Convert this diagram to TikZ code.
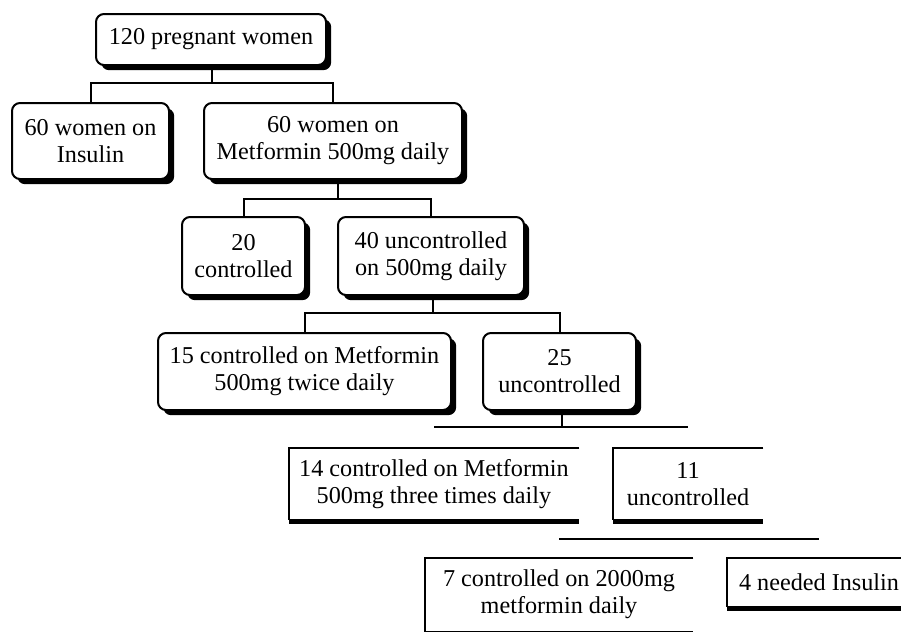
\documentclass[tikz,border=0pt]{standalone}
\usepackage{fontspec}
\setmainfont{Liberation Serif}
\usetikzlibrary{shadows}

\begin{document}
\begin{tikzpicture}[x=0.5pt, y=-0.5pt, font=\fontsize{12.1}{13.5}\selectfont,
            box/.style={draw, line width=1pt, rounded corners=4pt, fill=white, align=center, inner sep=0pt,
                drop shadow={shadow xshift=2.6pt, shadow yshift=-2.6pt, fill=black, opacity=1}},
            openbox/.style={align=center, inner sep=0pt},
            link/.style={line width=1pt}]
            \clip (0,0) rectangle (901,634);

            \node[box, minimum width=115pt, minimum height=25.5pt] (n0) at (211, 39.5) {120 pregnant women};
            \node[box, minimum width=78.5pt, minimum height=38pt] (n1) at (90.5, 141) {60 women on\\Insulin};
            \node[box, minimum width=129pt, minimum height=38pt] (n2) at (333, 141) {60 women on\\Metformin 500mg daily};
            \node[box, minimum width=61.5pt, minimum height=39pt] (n3) at (243.5, 256) {20\\controlled};
            \node[box, minimum width=93pt, minimum height=39pt] (n4) at (431, 256) {40 uncontrolled\\on 500mg daily};
            \node[box, minimum width=146.5pt, minimum height=38.5pt] (n5) at (304.5, 371.5) {15 controlled on Metformin\\500mg twice daily};
            \node[box, minimum width=76.5pt, minimum height=38.5pt] (n6) at (559.5, 371.5) {25\\uncontrolled};
            \node[openbox, minimum width=145pt, minimum height=36pt] (n7) at (434, 484) {14 controlled on Metformin\\500mg three times daily};
            \node[openbox, minimum width=75pt, minimum height=36pt] (n8) at (688, 484) {11\\uncontrolled};
            \node[openbox, minimum width=134pt, minimum height=36.5pt] (n9) at (559, 594.5) {7 controlled on 2000mg\\metformin daily};
            \node[openbox, minimum width=92pt, minimum height=24.5pt] (n10) at (819, 582.5) {4 needed Insulin};

            % junctions of the bars
            \coordinate (j0) at (212, 83);
            \coordinate (j1) at (338, 199);
            \coordinate (j2) at (433, 313);
            \coordinate (j3) at (562, 427);
            \coordinate (j4) at (689, 539);

            \draw[link] (j0 |- n0.south) -- (j0);
            \draw[link] (n1.north) |- (j0) -| (n2.north);
            \draw[link] (j1 |- n2.south) -- (j1);
            \draw[link] (n3.north) |- (j1) -| (n4.north);
            \draw[link] (j2 |- n4.south) -- (j2);
            \draw[link] (n5.north) |- (j2) -| (n6.north);
            \draw[link] (j3 |- n6.south) -- (j3);
            \draw[link] (j3 -| n7.north) -- (j3 -| n8.north);
            \draw[link] (j4 -| n9.north) -- (j4 -| n10.north);

            % boxes with no right side
            \foreach \n in {n7, n8, n10} {
                \draw[line width=1pt] (\n.north east) -- (\n.north west) -- (\n.south west);
                \draw[line width=2.4pt] ([yshift=-0.5pt]\n.south west) -- ([yshift=-0.5pt]\n.south east);
            }
            \draw[line width=0.9pt] (n9.north east) -- (n9.north west) -- (n9.south west) -- (n9.south east);
        \end{tikzpicture}
\end{document}
